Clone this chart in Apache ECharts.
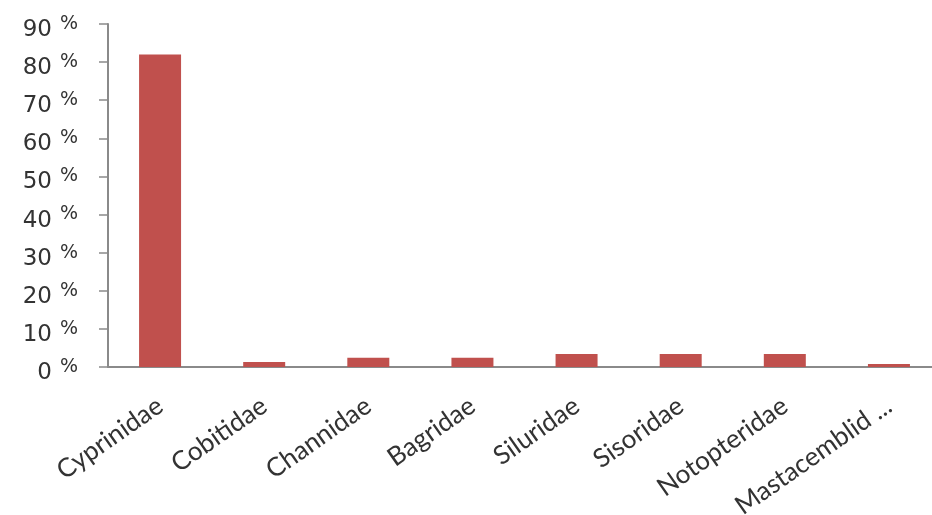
<!DOCTYPE html>
<html>
<head>
<meta charset="utf-8">
<script src="https://cdn.jsdelivr.net/npm/echarts@6/dist/echarts.min.js"></script>
<style>
  html, body { margin: 0; padding: 0; background: #fff; }
  #chart { width: 932px; height: 515px; }
</style>
</head>
<body>
<div id="chart"></div>
<script>
// Data
const families = ['Cyprinidae', 'Cobitidae', 'Channidae', 'Bagridae', 'Siluridae', 'Sisoridae', 'Notopteridae', 'Mastacemblid ...'];
const shares = [82, 1.3, 2.4, 2.4, 3.4, 3.4, 3.4, 0.8];

const chart = echarts.init(document.getElementById('chart'));

const option = {
    backgroundColor: '#fff',
    animation: false,
    grid: { left: 108, right: -9, top: 24, bottom: 148, outerBoundsMode: 'none', containLabel: false },
    xAxis: {
        type: 'category',
        data: families,
        axisLine: { lineStyle: { color: '#8a8a8a', width: 2 } },
        axisTick: { show: false },
        axisLabel: {
            interval: 0,
            rotate: 35,
            margin: 36,
            color: '#333',
            fontFamily: 'Lato',
            fontSize: 26
        }
    },
    yAxis: {
        type: 'value',
        min: 0,
        max: 90,
        interval: 10,
        splitLine: { show: false },
        axisLine: { show: true, lineStyle: { color: '#8a8a8a', width: 2 } },
        axisTick: { show: true, length: 9, lineStyle: { color: '#8a8a8a', width: 1.5 } },
        axisLabel: {
            margin: 30,
            formatter: v => '{n|' + v + '}{p|%}',
            rich: {
                n: { fontFamily: 'DejaVu Sans', fontSize: 23, color: '#333', padding: [12, 0, 0, 0] },
                p: { fontFamily: 'DejaVu Sans', fontSize: 19, color: '#333', padding: [0, 0, 0, 8] }
            }
        }
    },
    series: [{
        type: 'bar',
        data: shares,
        barWidth: 42,
        itemStyle: { color: '#c0504d' }
    }]
};
chart.setOption(option);
</script>
</body>
</html>
